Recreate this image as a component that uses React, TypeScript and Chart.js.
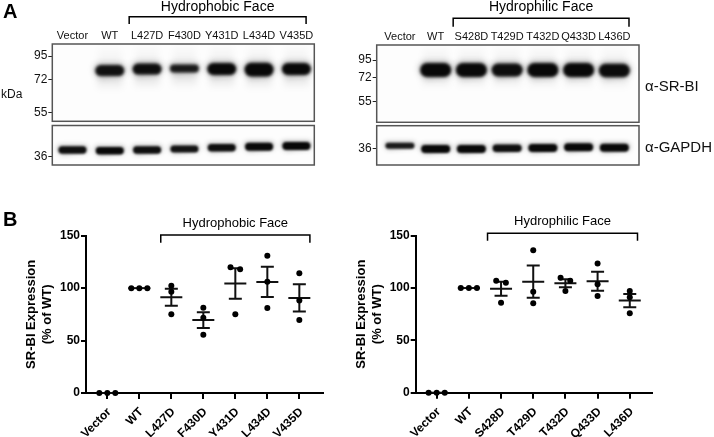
import React, { useEffect, useRef } from "react";
import { Chart, registerables } from "chart.js";

Chart.register(...registerables);

const FONT = "'Liberation Sans', Arial, Helvetica, sans-serif";

// ---------------- Panel A: western blots ----------------
const hydrophobicLanes = ["Vector", "WT", "L427D", "F430D", "Y431D", "L434D", "V435D"];
const hydrophilicLanes = ["Vector", "WT", "S428D", "T429D", "T432D", "Q433D", "L436D"];

const srbiMarkersKDa = [95, 72, 55];
const gapdhMarkersKDa = [36];

// marker migration (mm from top of membrane strip)
const srbiMarkerMigPhobic = [12, 35.3, 68.7];
const srbiMarkerMigPhilic = [15, 32.3, 56.7];
const gapdhMarkerMigPhobic = [31.2];
const gapdhMarkerMigPhilic = [22.6];

// SR-BI bands: migration, relative intensity, spread (mm)
const srbiBandMigPhobic = [26, 26.5, 25, 24.5, 25, 25.5, 25];
const srbiBandIntPhobic = [0, 0.95, 0.97, 0.9, 1, 1, 1];
const srbiBandSpreadPhobic = [0, 11, 11, 8, 12, 13.5, 12];

const srbiBandMigPhilic = [25, 25, 25, 25, 25, 25, 25.5];
const srbiBandIntPhilic = [0, 1, 1, 0.97, 1, 1, 0.98];
const srbiBandSpreadPhilic = [0, 14, 14, 13, 14, 14, 13.5];

// GAPDH bands
const gapdhBandMigPhobic = [24.5, 25.2, 24.5, 23.5, 22.2, 21.2, 20.5];
const gapdhBandIntPhobic = [0.97, 1, 0.97, 0.95, 0.97, 1, 1];
const gapdhBandSpreadPhobic = [7.5, 7.5, 7.5, 7, 7.5, 8, 8];

const gapdhBandMigPhilic = [20, 23.3, 23.3, 22.6, 22.3, 21.6, 22];
const gapdhBandIntPhilic = [0.9, 1, 1, 0.97, 1, 1, 1];
const gapdhBandSpreadPhilic = [6, 8, 8, 7.5, 8, 8, 8];

// ---------------- Panel B: quantification (% of WT) ----------------
const vectorPct = [0, 0, 0];
const wtPct = [100, 100, 100];
const l427dPct = [102.2, 96.5, 75.2];
const f430dPct = [81.3, 71.7, 55.5];
const y431dPct = [120, 118.1, 75.2];
const l434dPct = [130.8, 106, 81];
const v435dPct = [114.3, 88.3, 69.5];
const s428dPct = [107, 105, 86];
const t429dPct = [136.2, 96.5, 85.4];
const t432dPct = [109.8, 107, 97.1];
const q433dPct = [123.5, 103.5, 92.4];
const l436dPct = [97.1, 91.1, 75.9];

const yTitle = ["SR-BI Expression", "(% of WT)"];

// ---------------- helpers ----------------
function roundRectPath(ctx: CanvasRenderingContext2D, x: number, y: number, w: number, h: number, r: number) {
  const rr = Math.min(r, h / 2, w / 2);
  ctx.beginPath();
  ctx.moveTo(x + rr, y);
  ctx.lineTo(x + w - rr, y);
  ctx.arc(x + w - rr, y + rr, rr, -Math.PI / 2, Math.PI / 2);
  ctx.lineTo(x + rr, y + h);
  ctx.arc(x + rr, y + rr, rr, Math.PI / 2, (3 * Math.PI) / 2);
  ctx.closePath();
}

function dodge(vals: number[]): number[] {
  const order = vals.map((_, i) => i).sort((a, b) => vals[b] - vals[a]);
  const offs = new Array(vals.length).fill(0);
  let cluster: number[] = [];
  const flush = () => {
    const n = cluster.length;
    const step = n === 2 ? 0.3 : 0.25;
    cluster.forEach((k, j) => (offs[k] = n > 1 ? (j - (n - 1) / 2) * step : 0));
    cluster = [];
  };
  order.forEach((k) => {
    if (cluster.length && vals[cluster[cluster.length - 1]] - vals[k] >= 4.5) flush();
    cluster.push(k);
  });
  flush();
  return offs;
}

function blotPlugin(style: any) {
  return {
    id: "blot",
    beforeDatasetsDraw(chart: any) {
      const ctx: CanvasRenderingContext2D = chart.ctx;
      const { left, top, right, bottom } = chart.chartArea;
      const w = right - left;
      const h = bottom - top;
      const ys = chart.scales.y;
      const unit = Math.abs(ys.getPixelForValue(1) - ys.getPixelForValue(0));
      const meta = chart.getDatasetMeta(0);
      const raw: any[] = chart.data.datasets[0].data;
      ctx.save();
      ctx.fillStyle = "#fdfdfd";
      ctx.fillRect(left, top, w, h);
      ctx.beginPath();
      ctx.rect(left, top, w, h);
      ctx.clip();
      meta.data.forEach((el: any, i: number) => {
        const d = raw[i];
        if (!d.v) return;
        const bw = style.bandWidth;
        const bh = d.s * unit;
        const cx = el.x;
        const cy = el.y;
        if (style.smearBelow) {
          ctx.filter = "blur(3px)";
          const g = ctx.createLinearGradient(0, cy, 0, cy + style.smearBelow);
          g.addColorStop(0, `rgba(0,0,0,${style.smearBelowAlpha * d.v})`);
          g.addColorStop(1, "rgba(0,0,0,0)");
          ctx.fillStyle = g;
          ctx.fillRect(cx - bw / 2 + 2, cy, bw - 4, style.smearBelow);
        }
        if (style.smearAbove) {
          ctx.filter = "blur(3px)";
          const g = ctx.createLinearGradient(0, cy, 0, cy - style.smearAbove);
          g.addColorStop(0, `rgba(0,0,0,${style.smearAboveAlpha * d.v})`);
          g.addColorStop(1, "rgba(0,0,0,0)");
          ctx.fillStyle = g;
          ctx.fillRect(cx - bw / 2 + 3, cy - style.smearAbove, bw - 6, style.smearAbove);
        }
        // soft halo
        ctx.filter = `blur(${style.blur * 2}px)`;
        ctx.fillStyle = `rgba(20,20,20,${0.35 * d.v})`;
        roundRectPath(ctx, cx - bw / 2 - 1, cy - bh / 2 - 1, bw + 2, bh + 2, bh / 2);
        ctx.fill();
        // band core
        ctx.filter = `blur(${style.blur}px)`;
        ctx.fillStyle = `rgba(8,8,8,${d.v})`;
        roundRectPath(ctx, cx - bw / 2, cy - bh / 2, bw, bh, bh / 2);
        ctx.fill();
      });
      ctx.filter = "none";
      ctx.restore();
      ctx.save();
      ctx.strokeStyle = "#555";
      ctx.lineWidth = 1.5;
      ctx.strokeRect(left, top, w, h);
      ctx.restore();
    },
  };
}

function bracketPlugin(b: any) {
  return {
    id: "bracket",
    afterDraw(chart: any) {
      const ctx: CanvasRenderingContext2D = chart.ctx;
      const xs = chart.scales.x;
      const x1 = xs.getPixelForValue(b.from);
      const x2 = xs.getPixelForValue(b.to);
      ctx.save();
      ctx.strokeStyle = "#000";
      ctx.lineWidth = b.lineWidth;
      ctx.beginPath();
      ctx.moveTo(x1, b.tickY);
      ctx.lineTo(x1, b.lineY);
      ctx.lineTo(x2, b.lineY);
      ctx.lineTo(x2, b.tickY);
      ctx.stroke();
      ctx.fillStyle = "#000";
      ctx.font = `${b.fontSize}px ${FONT}`;
      ctx.textAlign = "center";
      ctx.textBaseline = "middle";
      ctx.fillText(b.text, (x1 + x2) / 2, b.textY);
      ctx.restore();
    },
  };
}

function meanSemPlugin(groups: number[][]) {
  return {
    id: "meanSem",
    beforeDatasetsDraw(chart: any) {
      const ctx: CanvasRenderingContext2D = chart.ctx;
      const xs = chart.scales.x;
      const ys = chart.scales.y;
      ctx.save();
      ctx.strokeStyle = "#111";
      ctx.lineWidth = 2;
      groups.forEach((vals, i) => {
        const n = vals.length;
        const mean = vals.reduce((a, b) => a + b, 0) / n;
        const sd = Math.sqrt(vals.reduce((a, b) => a + (b - mean) ** 2, 0) / (n - 1));
        const sem = sd / Math.sqrt(n);
        const cx = xs.getPixelForValue(i);
        const ym = ys.getPixelForValue(mean);
        ctx.beginPath();
        ctx.moveTo(cx - 11, ym);
        ctx.lineTo(cx + 11, ym);
        if (sem > 0.01) {
          const yt = ys.getPixelForValue(mean + sem);
          const yb = ys.getPixelForValue(mean - sem);
          ctx.moveTo(cx, yt);
          ctx.lineTo(cx, yb);
          ctx.moveTo(cx - 6.5, yt);
          ctx.lineTo(cx + 6.5, yt);
          ctx.moveTo(cx - 6.5, yb);
          ctx.lineTo(cx + 6.5, yb);
        }
        ctx.stroke();
      });
      ctx.restore();
    },
  };
}

function blotConfig(p: any): any {
  const data = p.bandMig.map((m: number, i: number) => ({ x: i, y: m, v: p.bandInt[i], s: p.bandSpread[i] }));
  const lanes: string[] = p.lanes || [];
  const plugins: any[] = [blotPlugin(p.style)];
  if (p.bracket) plugins.push(bracketPlugin(p.bracket));
  return {
    type: "scatter",
    data: { datasets: [{ data, pointRadius: 0, pointHoverRadius: 0 }] },
    options: {
      responsive: false,
      animation: false,
      devicePixelRatio: 1,
      events: [],
      layout: { padding: { left: 0, top: p.padTop, right: p.padRight, bottom: p.padBottom } },
      plugins: { legend: { display: false }, tooltip: { enabled: false } },
      scales: {
        x: {
          type: "linear",
          position: "top",
          display: !!p.lanes,
          min: p.xMin,
          max: p.xMax,
          afterBuildTicks: (s: any) => {
            s.ticks = lanes.map((_, i) => ({ value: i }));
          },
          afterFit: (s: any) => {
            s.height = p.xAxisHeight;
            s.paddingLeft = 0;
            s.paddingRight = 0;
          },
          ticks: {
            autoSkip: false,
            minRotation: 0,
            maxRotation: 0,
            color: "#111",
            font: { family: FONT, size: 11 },
            padding: 1,
            callback: (v: any) => lanes[Math.round(Number(v))] ?? "",
          },
          grid: { display: false, drawTicks: false },
          border: { display: false },
        },
        y: {
          type: "linear",
          min: 0,
          max: p.yMax,
          reverse: true,
          afterBuildTicks: (s: any) => {
            s.ticks = p.markerMig.map((v: number) => ({ value: v }));
          },
          afterFit: (s: any) => {
            s.width = p.axisLeft;
            s.paddingTop = 0;
            s.paddingBottom = 0;
          },
          ticks: {
            autoSkip: false,
            color: "#111",
            font: { family: FONT, size: 12 },
            padding: 1,
            callback: (_v: any, i: number) => String(p.markerKDa[i]),
          },
          grid: { display: true, drawOnChartArea: false, drawTicks: true, tickLength: 4, color: "#222", lineWidth: 1 },
          border: { display: false },
        },
      },
    },
    plugins,
  };
}

function scatterConfig(p: any): any {
  const pts: { x: number; y: number }[] = [];
  p.groups.forEach((vals: number[], i: number) => {
    const off = dodge(vals);
    vals.forEach((v, j) => pts.push({ x: i + off[j], y: v }));
  });
  const axisFont = { family: FONT, size: 12, weight: "bold" as const };
  const lanes: string[] = p.lanes;
  return {
    type: "scatter",
    data: {
      datasets: [
        { data: pts, pointRadius: 3, pointHoverRadius: 3, backgroundColor: "#000", borderColor: "#000", borderWidth: 0, clip: false },
      ],
    },
    options: {
      responsive: false,
      animation: false,
      devicePixelRatio: 1,
      events: [],
      layout: { padding: { left: p.padLeft, top: p.padTop, right: p.padRight, bottom: 0 } },
      plugins: { legend: { display: false }, tooltip: { enabled: false } },
      scales: {
        x: {
          type: "linear",
          min: p.xMin,
          max: p.xMax,
          afterBuildTicks: (s: any) => {
            s.ticks = lanes.map((_, i) => ({ value: i }));
          },
          afterFit: (s: any) => {
            s.height = p.xAxisHeight;
          },
          ticks: {
            autoSkip: false,
            minRotation: 45,
            maxRotation: 45,
            color: "#000",
            font: axisFont,
            padding: 6,
            labelOffset: 2,
            callback: (v: any) => lanes[Math.round(Number(v))] ?? "",
          },
          grid: { display: true, drawOnChartArea: false, drawTicks: true, tickLength: 6, color: "#000", lineWidth: 2 },
          border: { display: true, color: "#000", width: 2 },
        },
        y: {
          type: "linear",
          min: 0,
          max: 150,
          afterFit: (s: any) => {
            s.width = p.axisWidth;
          },
          ticks: { stepSize: 50, color: "#000", font: axisFont, padding: 1 },
          grid: { display: true, drawOnChartArea: false, drawTicks: true, tickLength: 5, color: "#000", lineWidth: 2 },
          border: { display: true, color: "#000", width: 2 },
          title: {
            display: true,
            text: yTitle,
            color: "#000",
            font: { family: FONT, size: 13, weight: "bold", lineHeight: 1.2 },
            padding: { top: p.titlePad, bottom: 0 },
          },
        },
      },
    },
    plugins: [meanSemPlugin(p.groups), bracketPlugin(p.bracket)],
  };
}

function ChartCanvas(props: { left: number; top: number; width: number; height: number; make: () => any }) {
  const ref = useRef<HTMLCanvasElement>(null);
  useEffect(() => {
    const chart = new Chart(ref.current as HTMLCanvasElement, props.make());
    return () => chart.destroy();
  }, []);
  return (
    <canvas
      ref={ref}
      width={props.width}
      height={props.height}
      style={{ position: "absolute", left: props.left, top: props.top, width: props.width, height: props.height }}
    />
  );
}

const srbiStyleLeft = { bandWidth: 29, blur: 1.5, smearBelow: 20, smearBelowAlpha: 0.18, smearAbove: 26, smearAboveAlpha: 0.07 };
const srbiStyleRight = { bandWidth: 31, blur: 1.5, smearBelow: 18, smearBelowAlpha: 0.16, smearAbove: 26, smearAboveAlpha: 0.07 };
const gapdhStyleLeft = { bandWidth: 28, blur: 1.2 };
const gapdhStyleRight = { bandWidth: 29, blur: 1.2 };

export default function App() {
  const label = (text: string, left: number, top: number, size: number, bold = false) => (
    <div
      style={{
        position: "absolute",
        left,
        top,
        fontSize: size,
        lineHeight: `${size}px`,
        fontWeight: bold ? 700 : 400,
        fontFamily: FONT,
        color: bold ? "#000" : "#111",
        whiteSpace: "nowrap",
      }}
    >
      {text}
    </div>
  );
  return (
    <div style={{ position: "fixed", left: 0, top: 0, width: 714, height: 437, background: "#fff", overflow: "hidden" }}>
      <ChartCanvas
        left={0}
        top={0}
        width={340}
        height={123}
        make={() =>
          blotConfig({
            lanes: hydrophobicLanes,
            markerKDa: srbiMarkersKDa,
            markerMig: srbiMarkerMigPhobic,
            bandMig: srbiBandMigPhobic,
            bandInt: srbiBandIntPhobic,
            bandSpread: srbiBandSpreadPhobic,
            xMin: -0.54,
            xMax: 6.48,
            yMax: 77,
            axisLeft: 52.3,
            xAxisHeight: 44,
            padTop: 0,
            padRight: 25.7,
            padBottom: 1.7,
            style: srbiStyleLeft,
            bracket: { text: "Hydrophobic Face", from: 1.52, to: 6.26, lineY: 16.7, tickY: 24, textY: 7, fontSize: 14, lineWidth: 1.5 },
          })
        }
      />
      <ChartCanvas
        left={0}
        top={123}
        width={340}
        height={45}
        make={() =>
          blotConfig({
            lanes: null,
            markerKDa: gapdhMarkersKDa,
            markerMig: gapdhMarkerMigPhobic,
            bandMig: gapdhBandMigPhobic,
            bandInt: gapdhBandIntPhobic,
            bandSpread: gapdhBandSpreadPhobic,
            xMin: -0.54,
            xMax: 6.48,
            yMax: 39.5,
            axisLeft: 52.3,
            xAxisHeight: 0,
            padTop: 2.5,
            padRight: 25.7,
            padBottom: 3,
            style: gapdhStyleLeft,
          })
        }
      />
      <ChartCanvas
        left={340}
        top={0}
        width={374}
        height={123}
        make={() =>
          blotConfig({
            lanes: hydrophilicLanes,
            markerKDa: srbiMarkersKDa,
            markerMig: srbiMarkerMigPhilic,
            bandMig: srbiBandMigPhilic,
            bandInt: srbiBandIntPhilic,
            bandSpread: srbiBandSpreadPhilic,
            xMin: -0.65,
            xMax: 6.69,
            yMax: 77.3,
            axisLeft: 36.7,
            xAxisHeight: 45,
            padTop: 0,
            padRight: 75,
            padBottom: 0.7,
            style: srbiStyleRight,
            bracket: { text: "Hydrophilic Face", from: 1.49, to: 6.41, lineY: 18.3, tickY: 26.7, textY: 7, fontSize: 14, lineWidth: 1.5 },
          })
        }
      />
      <ChartCanvas
        left={340}
        top={123}
        width={374}
        height={45}
        make={() =>
          blotConfig({
            lanes: null,
            markerKDa: gapdhMarkersKDa,
            markerMig: gapdhMarkerMigPhilic,
            bandMig: gapdhBandMigPhilic,
            bandInt: gapdhBandIntPhilic,
            bandSpread: gapdhBandSpreadPhilic,
            xMin: -0.65,
            xMax: 6.69,
            yMax: 39.3,
            axisLeft: 36.7,
            xAxisHeight: 0,
            padTop: 2.7,
            padRight: 75,
            padBottom: 3,
            style: gapdhStyleRight,
          })
        }
      />
      <ChartCanvas
        left={0}
        top={200}
        width={355}
        height={237}
        make={() =>
          scatterConfig({
            lanes: hydrophobicLanes,
            groups: [vectorPct, wtPct, l427dPct, f430dPct, y431dPct, l434dPct, v435dPct],
            xMin: -0.666,
            xMax: 6.73,
            padLeft: 14.5,
            axisWidth: 71.5,
            titlePad: 9.4,
            padTop: 35.7,
            padRight: 32.3,
            xAxisHeight: 44,
            bracket: { text: "Hydrophobic Face", from: 1.67, to: 6.33, lineY: 35, tickY: 42.7, textY: 23.3, fontSize: 13, lineWidth: 1.5 },
          })
        }
      />
      <ChartCanvas
        left={340}
        top={200}
        width={374}
        height={237}
        make={() =>
          scatterConfig({
            lanes: hydrophilicLanes,
            groups: [vectorPct, wtPct, s428dPct, t429dPct, t432dPct, q433dPct, l436dPct],
            xMin: -0.652,
            xMax: 6.7,
            padLeft: 0,
            axisWidth: 75.7,
            titlePad: 13.6,
            padTop: 35.7,
            padRight: 61.7,
            xAxisHeight: 44.3,
            bracket: { text: "Hydrophilic Face", from: 1.58, to: 6.24, lineY: 33.3, tickY: 40.7, textY: 21.7, fontSize: 13, lineWidth: 1.5 },
          })
        }
      />
      {label("A", 3, 1, 20, true)}
      {label("B", 3, 209, 20, true)}
      {label("kDa", 1, 88.4, 12)}
      {label("α-SR-BI", 645, 78, 15)}
      {label("α-GAPDH", 645, 138.5, 15)}
    </div>
  );
}
